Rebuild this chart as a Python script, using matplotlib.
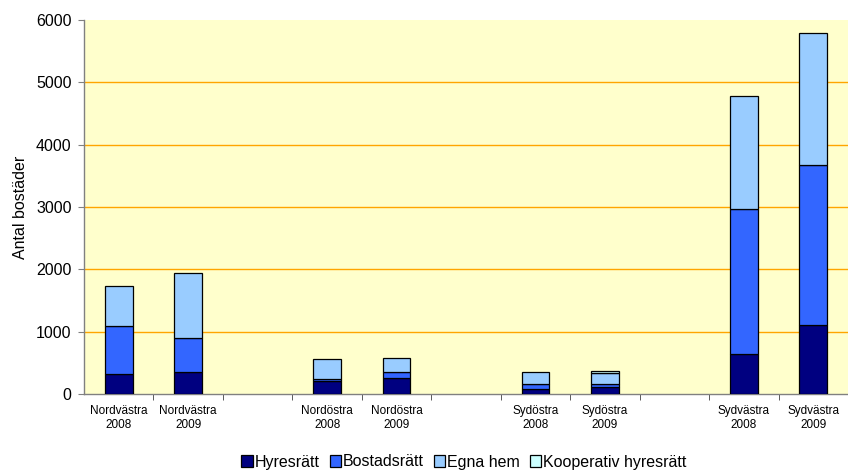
import matplotlib
matplotlib.use('Agg')
import matplotlib.pyplot as plt
import numpy as np

plt.rcParams['font.family'] = ['Liberation Sans', 'DejaVu Sans']

# Område/år, blanka poster ger luft mellan grupperna
categories = [
    'Nordvästra\n2008', 'Nordvästra\n2009', '',
    'Nordöstra\n2008', 'Nordöstra\n2009', '',
    'Sydöstra\n2008', 'Sydöstra\n2009', '',
    'Sydvästra\n2008', 'Sydvästra\n2009',
]
hyresratt = [320, 348, 0, 208, 252, 0, 75, 112, 0, 637, 1102]
bostadsratt = [770, 545, 0, 38, 96, 0, 81, 48, 0, 2328, 2578]
egna_hem = [643, 1044, 0, 311, 225, 0, 197, 172, 0, 1823, 2110]
kooperativ = [0, 0, 0, 0, 0, 0, 0, 38, 0, 0, 0]
blank = [c == '' for c in categories]

series = [
    ('Hyresrätt', hyresratt, '#000080'),
    ('Bostadsrätt', bostadsratt, '#3366FF'),
    ('Egna hem', egna_hem, '#99CCFF'),
    ('Kooperativ hyresrätt', kooperativ, '#CCFFFF'),
]

fig = plt.figure(figsize=(8.48, 4.71), dpi=100)
ax = fig.add_axes([84 / 848, 77 / 471, 764 / 848, 374 / 471])
ax.set_facecolor('#FFFFCC')

x = np.arange(len(categories))
bottom = np.zeros(len(categories))
for name, vals, color in series:
    vals = np.array(vals, dtype=float)
    keep = [i for i in range(len(categories)) if not blank[i] and vals[i] > 0]
    ax.bar(x[keep], vals[keep], bottom=bottom[keep], width=0.4, color=color,
           edgecolor='black', linewidth=0.9, label=name, zorder=3)
    bottom += vals

ax.set_xlim(-0.5, len(categories) - 0.5)
ax.set_ylim(0, 6000)
ax.set_yticks(range(0, 6001, 1000))
ax.tick_params(axis='y', labelsize=11.5, length=4, color='#808080', pad=5)

ax.set_xticks(x)
ax.set_xticklabels(categories, fontsize=8.5, linespacing=1.25)
ax.set_xticks(np.arange(0.5, len(categories) - 0.5, 1), minor=True)
ax.tick_params(axis='x', which='major', length=0, pad=8)
ax.tick_params(axis='x', which='minor', length=4, color='#404040')

for y in range(1000, 6000, 1000):
    ax.axhline(y, color='#FFA500', linewidth=1.0, zorder=1)

for side in ('top', 'right'):
    ax.spines[side].set_visible(False)
ax.spines['left'].set_color('#808080')
ax.spines['bottom'].set_color('#808080')
ax.spines['left'].set_linewidth(1.0)
ax.spines['bottom'].set_linewidth(1.0)

ax.set_ylabel('Antal bostäder', fontsize=11.5, labelpad=6)

handles, labels = ax.get_legend_handles_labels()
fig.legend(handles, labels, loc='center', bbox_to_anchor=(464 / 848, 1 - 462 / 471),
           ncol=4, frameon=False, fontsize=11.5, handlelength=0.7, handleheight=0.7,
           handletextpad=0.15, columnspacing=0.6, borderaxespad=0)

fig.savefig('out.png', dpi=100)
